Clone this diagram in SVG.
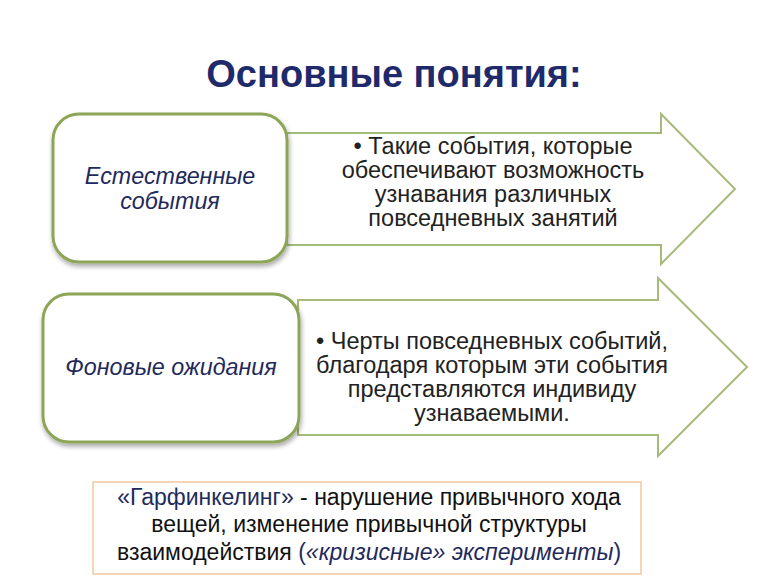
<svg xmlns="http://www.w3.org/2000/svg" width="768" height="576" viewBox="0 0 768 576">
<defs>
<filter id="sh" x="-10%" y="-10%" width="125%" height="130%">
<feGaussianBlur in="SourceAlpha" stdDeviation="2.5"/>
<feOffset dx="1" dy="3" result="b"/>
<feComponentTransfer><feFuncA type="linear" slope="0.35"/></feComponentTransfer>
<feMerge><feMergeNode/><feMergeNode in="SourceGraphic"/></feMerge>
</filter>
<style>
.box{fill:#fff;stroke:#8DA557;stroke-width:3}
.arr{fill:#fff;stroke:#A6BA7A;stroke-width:2}
.lbl{font-family:"Liberation Sans",Arial,sans-serif;font-style:italic;font-size:23.3px;fill:#1F2A5C;text-anchor:middle}
.body{font-family:"Liberation Sans",Arial,sans-serif;font-size:23.5px;fill:#222;text-anchor:middle}
.note{font-family:"Liberation Sans",Arial,sans-serif;font-size:23px;fill:#111;text-anchor:middle}
.nv{fill:#1F2A5C}
</style>
</defs>
<rect width="768" height="576" fill="#fff"/>
<text x="394" y="87" font-family="Liberation Sans,Arial,sans-serif" font-weight="bold" font-size="38" fill="#1F2A6B" text-anchor="middle">Основные понятия:</text>

<g id="arrow1">
<path class="arr" d="M287 133 H661 V114 L735 189 L661 264 V245 H287 Z"/>
<text class="body" x="493" y="154">• Такие события, которые</text>
<text class="body" x="493" y="178">обеспечивают возможность</text>
<text class="body" x="493" y="202">узнавания различных</text>
<text class="body" x="493" y="226">повседневных занятий</text>
</g>
<g id="node1">
<rect class="box" x="53" y="114" width="234" height="148" rx="26" filter="url(#sh)"/>
<text class="lbl" x="170" y="184">Естественные</text>
<text class="lbl" x="170" y="209">события</text>
</g>

<g id="arrow2">
<path class="arr" d="M298 300 H658 V278 L747 367 L658 456 V435 H298 Z"/>
<text class="body" x="492" y="349">• Черты повседневных событий,</text>
<text class="body" x="492" y="373">благодаря которым эти события</text>
<text class="body" x="492" y="397">представляются индивиду</text>
<text class="body" x="492" y="421">узнаваемыми.</text>
</g>
<g id="node2">
<rect class="box" x="43" y="294" width="256" height="148" rx="26" filter="url(#sh)"/>
<text class="lbl" x="171" y="375">Фоновые ожидания</text>
</g>

<g id="note">
<rect x="93" y="482" width="548" height="92" fill="#fff" stroke="#F2C79A" stroke-width="1.5"/>
<text class="note" x="369" y="505"><tspan class="nv">«Гарфинкелинг»</tspan> - нарушение привычного хода</text>
<text class="note" x="369" y="532">вещей, изменение привычной структуры</text>
<text class="note" x="369" y="560">взаимодействия <tspan class="nv">(<tspan font-style="italic">«кризисные» эксперименты</tspan>)</tspan></text>
</g>
<g id="connectors"/>
</svg>
